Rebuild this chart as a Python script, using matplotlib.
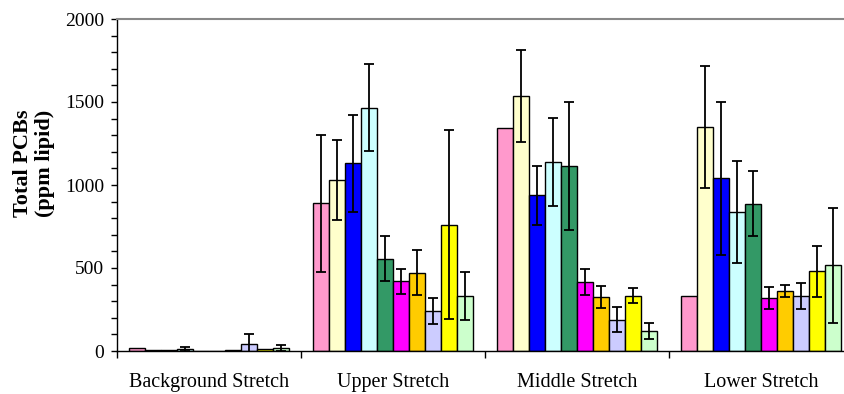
import numpy as np
import matplotlib
matplotlib.use("Agg")
import matplotlib.pyplot as plt
from matplotlib.ticker import MultipleLocator

plt.rcParams['font.family'] = ['Liberation Serif', 'DejaVu Serif']

stretches = ["Background Stretch", "Upper Stretch", "Middle Stretch", "Lower Stretch"]

# Mean total PCBs (ppm lipid) for each of the ten series, per stretch
means = [
    [18, 8, 5, 12, 3, 3, 5, 40, 10, 18],
    [890, 1030, 1130, 1466, 557, 420, 472, 240, 760, 332],
    [1345, 1535, 937, 1140, 1115, 418, 328, 188, 333, 120],
    [330, 1348, 1040, 835, 886, 320, 361, 334, 480, 516],
]
# Error bar half-widths (NaN where no bar is drawn)
errors = [
    [np.nan, np.nan, np.nan, 10, np.nan, np.nan, np.nan, 65, np.nan, 18],
    [412, 240, 292, 262, 135, 76, 134, 77, 570, 146],
    [np.nan, 278, 180, 266, 384, 78, 66, 76, 46, 50],
    [np.nan, 366, 462, 307, 196, 64, 34, 78, 153, 348],
]

colors = ["#FF99CC", "#FFFFCC", "#0000FF", "#CCFFFF", "#339966",
          "#FF00FF", "#FFCC00", "#CCCCFF", "#FFFF00", "#CCFFCC"]

W, H = 845, 394
fig = plt.figure(figsize=(W / 100, H / 100), dpi=100)
ax = fig.add_axes([117 / W, (H - 351) / H, (853 - 117) / W, (351 - 19) / H])

n_series = len(colors)
group_w = 1.0
bar_w = 160 / 184 / n_series

for s in range(n_series):
    xs = [g + (0.5 * group_w - 80 / 184) + (s + 0.5) * bar_w for g in range(len(stretches))]
    vals = [means[g][s] for g in range(len(stretches))]
    errs = [errors[g][s] for g in range(len(stretches))]
    ax.bar(xs, vals, width=bar_w, color=colors[s], edgecolor="black",
           linewidth=1.0, zorder=2)
    e = np.array(errs, dtype=float)
    mask = ~np.isnan(e)
    ax.errorbar(np.array(xs)[mask], np.array(vals)[mask], yerr=e[mask],
                fmt="none", ecolor="black", elinewidth=1.3, capsize=3.8,
                capthick=1.3, zorder=3)

ax.set_xlim(0, len(stretches))
ax.set_ylim(0, 2000)

ax.yaxis.set_major_locator(MultipleLocator(500))
ax.yaxis.set_minor_locator(MultipleLocator(100))
ax.tick_params(axis="y", which="both", direction="out", length=4, width=1,
               labelsize=14, pad=5)

ax.set_xticks(range(len(stretches) + 1))
ax.set_xticklabels([])
ax.set_xticks([g + 0.5 for g in range(len(stretches))], minor=True)
ax.set_xticklabels(stretches, minor=True, fontsize=14.5)
ax.tick_params(axis="x", which="major", direction="out", length=5, width=1)
ax.tick_params(axis="x", which="minor", length=0, pad=16)

for side in ("left", "bottom"):
    ax.spines[side].set_color("black")
    ax.spines[side].set_linewidth(1.0)
ax.spines["top"].set_color("#888888")
ax.spines["top"].set_linewidth(1.5)
ax.spines["right"].set_visible(False)

fig.text(34 / W, 1 - 163 / H, "Total PCBs\n(ppm lipid)", rotation=90,
         ha="center", va="center", fontsize=16, fontweight="bold",
         linespacing=1.15)

fig.savefig("out.png", dpi=100)
